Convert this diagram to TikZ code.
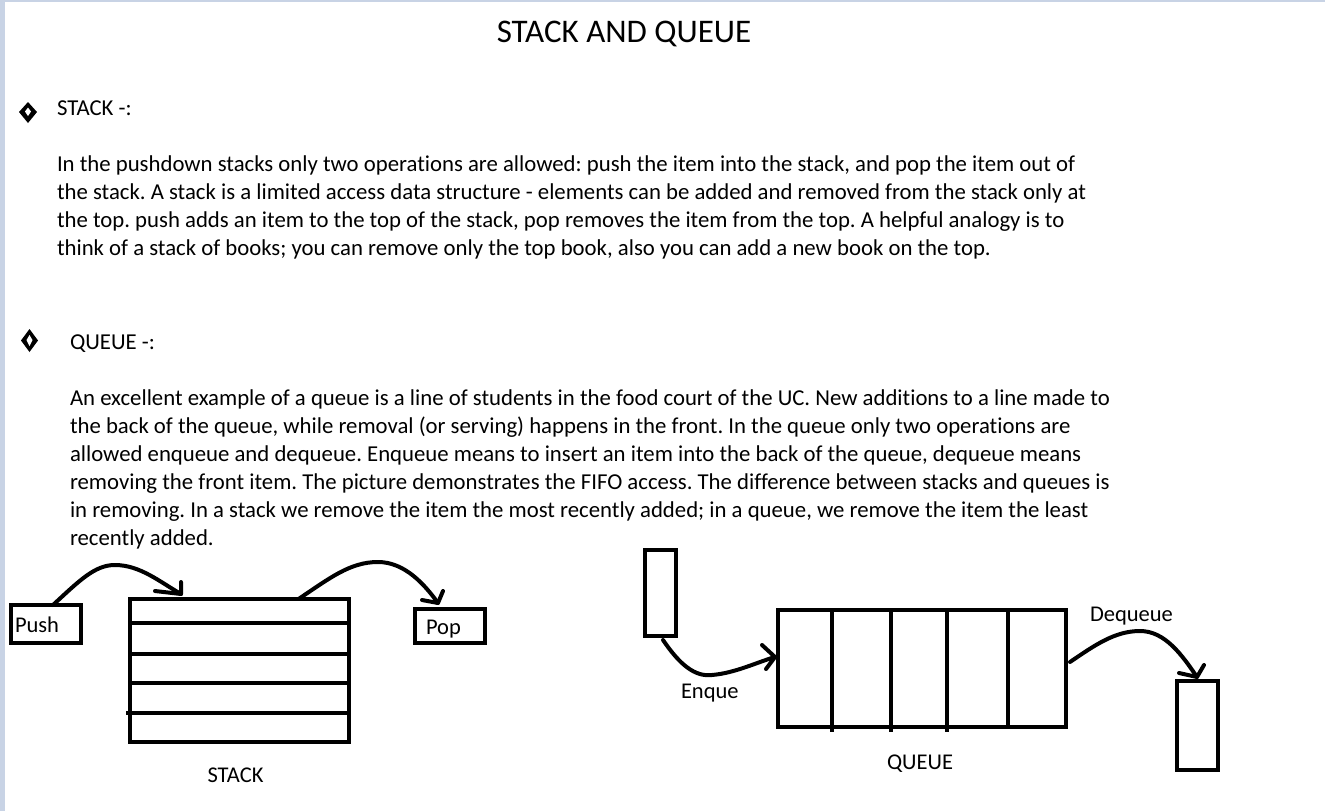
\documentclass[tikz,border=0pt]{standalone}
\usepackage{fontspec}
\setmainfont{Carlito}[Ligatures={NoCommon}]
\frenchspacing
\begin{document}
\begin{tikzpicture}[x=1pt,y=-1pt,
  every node/.style={inner sep=0pt,outer sep=0pt},
  body/.style={anchor=base west,font=\fontsize{22.75}{27}\selectfont},
  lbl/.style={anchor=base west,font=\fontsize{22.5}{27}\selectfont},
  ttl/.style={anchor=base,font=\fontsize{33}{38}\selectfont},
  box/.style={draw,line width=4pt,rectangle},
  ink/.style={line width=4pt},
  curve/.style={line width=4pt,line cap=round,line join=round},
  bulletshape/.style={fill=black},
]
\useasboundingbox (0,0) rectangle (1325,811);
\fill[white] (0,0) rectangle (1325,811);
\fill[fill={rgb,255:red,200;green,211;blue,229}] (0,0) rectangle (4.5,811);
\fill[fill={rgb,255:red,200;green,211;blue,229}] (0,0) rectangle (1325,1.5);

% title
\node[ttl] (title) at (624,42) {STACK AND QUEUE};

% bullets
\fill[bulletshape] (28,102) -- (37,112) -- (28,123) -- (19,112) -- cycle;
\fill[white] (28,107.5) -- (31,111.5) -- (28,116) -- (25,111.5) -- cycle;
\fill[bulletshape] (29.5,329) -- (38,340.5) -- (29.5,352) -- (21,340.5) -- cycle;
\fill[white] (29.5,335) -- (32.5,340) -- (29.5,346) -- (26.5,340) -- cycle;

\node[body] (h1) at (57,115) {STACK -:};
\node[body] (p1a) at (57,171) {In the pushdown stacks only two operations are allowed: push the item into the stack, and pop the item out of};
\node[body] (p1b) at (57,199) {the stack. A stack is a limited access data structure - elements can be added and removed from the stack only at};
\node[body] (p1c) at (57,227) {the top. push adds an item to the top of the stack, pop removes the item from the top. A helpful analogy is to};
\node[body] (p1d) at (57,255) {think of a stack of books; you can remove only the top book, also you can add a new book on the top.};

\node[body] (h2) at (70,349) {QUEUE -:};
\node[body] (p2a) at (70,405) {An excellent example of a queue is a line of students in the food court of the UC. New additions to a line made to};
\node[body] (p2b) at (70,433) {the back of the queue, while removal (or serving) happens in the front. In the queue only two operations are};
\node[body] (p2c) at (70,461) {allowed enqueue and dequeue. Enqueue means to insert an item into the back of the queue, dequeue means};
\node[body] (p2d) at (70,489) {removing the front item. The picture demonstrates the FIFO access. The difference between stacks and queues is};
\node[body] (p2e) at (70,517) {in removing. In a stack we remove the item the most recently added; in a queue, we remove the item the least};
\node[body] (p2f) at (70,545) {recently added.};

% ---- stack diagram
\node[box,minimum width=70pt,minimum height=38pt] (push) at (46,624) {};
\node[lbl] (pushtxt) at (15,632) {Push};
\node[box,minimum width=70pt,minimum height=34pt] (pop) at (450,626) {};
\node[lbl] (poptxt) at (426,634) {Pop};
\node[box,minimum width=219pt,minimum height=143pt] (stack) at (239.5,670.5) {};
\draw[ink] (130,623) -- (349,623);
\draw[ink] (130,654) -- (349,654);
\draw[ink] (130,683) -- (349,683);
\draw[ink] (126,713) -- (349,713);
\node[lbl,anchor=base] (stacklbl) at (235.5,782) {STACK};

\coordinate (pushtip) at (181,594);
\coordinate (poptip) at (438,603);
\draw[curve] ([xshift=7pt]push.north) .. controls (80,580) and (95,565) .. (115,565)
   .. controls (140,565) and (160,582) .. (pushtip);
\draw[curve] (181,582) -- (pushtip) -- (155,591);
\draw[curve] ([xshift=59pt]stack.north) .. controls (330,578) and (350,562) .. (378,562)
   .. controls (405,562) and (425,585) .. (poptip);
\draw[curve] (443,591) -- (poptip) -- (422,600);

% ---- queue diagram
\node[box,minimum width=31pt,minimum height=86pt] (qin) at (660.5,593) {};
\node[box,minimum width=288pt,minimum height=117pt] (queue) at (922,668.5) {};
\node[box,minimum width=41pt,minimum height=89pt] (qout) at (1197.5,725.5) {};
\draw[ink] (832,610) -- (832,732);
\draw[ink] (891,610) -- (891,732);
\draw[ink] (947,610) -- (947,732);
\draw[ink] (1008,610) -- (1008,727);
\node[lbl,anchor=base] (queuelbl) at (920,769) {QUEUE};
\node[lbl] (enqlbl) at (681,698) {Enque};
\node[lbl] (deqlbl) at (1090,621) {Dequeue};

\coordinate (enqtip) at (775,657);
\coordinate (deqtip) at (1197,677);
\draw[curve] (663,640) .. controls (680,665) and (695,677) .. (712,675)
   .. controls (735,673) and (755,663) .. (enqtip);
\draw[curve] (762,645) -- (enqtip) -- (766,669);
\draw[curve] (1070,662) .. controls (1095,645) and (1115,631) .. (1140,631)
   .. controls (1165,631) and (1182,655) .. (deqtip);
\draw[curve] (1204,665) -- (deqtip) -- (1179,673);
\end{tikzpicture}
\end{document}
